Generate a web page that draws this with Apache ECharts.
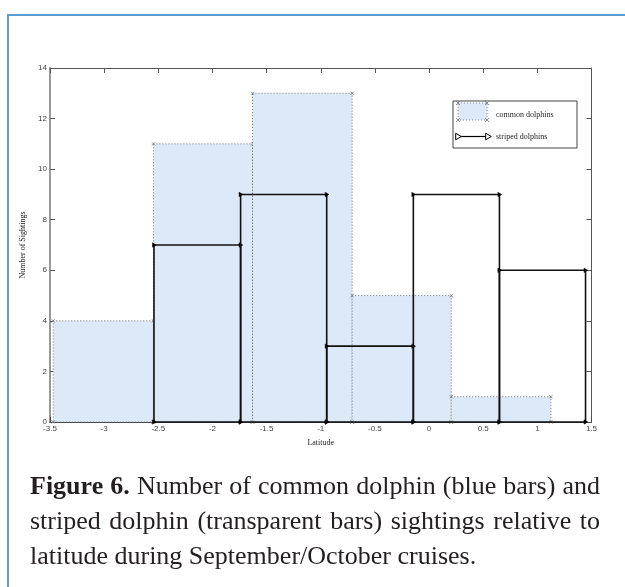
<!DOCTYPE html>
<html>
<head>
<meta charset="utf-8">
<script src="https://cdn.jsdelivr.net/npm/echarts@6/dist/echarts.min.js"></script>
<style>
  html, body { margin: 0; padding: 0; background: #fff; }
  #page { position: relative; width: 625px; height: 587px; overflow: hidden; }
  #frame { position: absolute; left: 7px; top: 14px; width: 700px; height: 700px;
           border-left: 2px solid #5b9bd5; border-top: 2px solid #5b9bd5; }
  #chart { position: absolute; left: 0; top: 0; width: 625px; height: 587px; }
  #caption { position: absolute; left: 30px; top: 468px; width: 570px;
             font-family: "Liberation Serif", "DejaVu Serif", serif; font-size: 26px;
             line-height: 35px; color: #231f20; }
  #caption div { text-align: justify; white-space: nowrap; }
  #caption .j { text-align-last: justify; }
</style>
</head>
<body>
<div id="page">
  <div id="frame"></div>
  <div id="chart"></div>
  <div id="caption">
    <div class="j"><b>Figure 6.</b> Number of common dolphin (blue bars) and</div>
    <div class="j">striped dolphin (transparent bars) sightings relative to</div>
    <div>latitude during September/October cruises.</div>
  </div>
</div>
<script>
// ---- data ----
const seriesNames = ['common dolphins', 'striped dolphins'];
const commonEdges = [-3.47, -2.545, -1.63, -0.71, 0.205, 1.125];
const commonCounts = [4, 11, 13, 5, 1];
const stripedEdges = [-2.54, -1.74, -0.945, -0.145, 0.65, 1.445];
const stripedCounts = [7, 9, 3, 9, 6];
const xAxisTitle = 'Latitude';
const yAxisTitle = 'Number of Sightings';

function bins(edges, counts) {
  return counts.map((c, i) => [edges[i], edges[i + 1], c]);
}

function xMark(x, y, s, color) {
  return { type: 'group', children: [
    { type: 'line', shape: { x1: x - s, y1: y - s, x2: x + s, y2: y + s }, style: { stroke: color, lineWidth: 0.8 } },
    { type: 'line', shape: { x1: x - s, y1: y + s, x2: x + s, y2: y - s }, style: { stroke: color, lineWidth: 0.8 } }
  ] };
}
function triMark(x, y, s, filled) {
  return { type: 'polygon', shape: { points: [[x - s * 0.7, y - s], [x + s, y], [x - s * 0.7, y + s]] },
           style: filled ? { fill: '#000', stroke: '#000', lineWidth: 0.5 } : { fill: '#fff', stroke: '#000', lineWidth: 1 } };
}

const chart = echarts.init(document.getElementById('chart'), null, { renderer: 'canvas' });

const axisFont = { fontFamily: 'Liberation Sans, Arial, sans-serif', fontSize: 8, color: '#444' };
const titleFont = { fontFamily: 'Liberation Serif, Times New Roman, serif', fontSize: 8, color: '#222' };

const option = {
  animation: false,
  backgroundColor: 'transparent',
  grid: { left: 50, right: 33.5, top: 68, bottom: 165 },
  xAxis: [
    { type: 'value', min: -3.5, max: 1.5, interval: 0.5, position: 'bottom',
      name: xAxisTitle, nameLocation: 'middle', nameGap: 17, nameTextStyle: titleFont,
      axisLine: { show: true, onZero: false, lineStyle: { color: '#444', width: 1 } },
      axisTick: { show: true, inside: true, length: 5, lineStyle: { color: '#444' } },
      axisLabel: Object.assign({ margin: 3, showMinLabel: true, showMaxLabel: true }, axisFont),
      splitLine: { show: false } },
    { type: 'value', min: -3.5, max: 1.5, interval: 0.5, position: 'top',
      axisLine: { show: true, onZero: false, lineStyle: { color: '#555', width: 1 } },
      axisTick: { show: true, inside: true, length: 5, lineStyle: { color: '#555' } },
      axisLabel: { show: false }, splitLine: { show: false } }
  ],
  yAxis: [
    { type: 'value', min: 0, max: 14, interval: 2, position: 'left',
      name: yAxisTitle, nameLocation: 'middle', nameGap: 9, nameRotate: 90, nameTextStyle: titleFont,
      axisLine: { show: true, onZero: false, lineStyle: { color: '#999', width: 2 } },
      axisTick: { show: true, inside: true, length: 5, lineStyle: { color: '#555' } },
      axisLabel: Object.assign({ margin: 3 }, axisFont),
      splitLine: { show: false } },
    { type: 'value', min: 0, max: 14, interval: 2, position: 'right',
      axisLine: { show: true, onZero: false, lineStyle: { color: '#555', width: 1 } },
      axisTick: { show: true, inside: true, length: 5, lineStyle: { color: '#555' } },
      axisLabel: { show: false }, splitLine: { show: false } }
  ],
  series: [
    {
      name: seriesNames[0], type: 'custom', xAxisIndex: 0, yAxisIndex: 0, z: 1,
      data: bins(commonEdges, commonCounts),
      encode: { x: [0, 1], y: 2 },
      renderItem: function (params, api) {
        const tl = api.coord([api.value(0), api.value(2)]);
        const br = api.coord([api.value(1), 0]);
        const children = [
          { type: 'rect', shape: { x: tl[0], y: tl[1], width: br[0] - tl[0], height: br[1] - tl[1] },
            style: { fill: '#dce9f8', stroke: '#777', lineWidth: 1, lineDash: [1, 2] } },
          xMark(tl[0], tl[1], 1.6, '#777'), xMark(br[0], tl[1], 1.6, '#777'),
          xMark(tl[0], br[1], 1.6, '#777'), xMark(br[0], br[1], 1.6, '#777')
        ];
        return { type: 'group', children: children };
      }
    },
    {
      name: seriesNames[1], type: 'custom', xAxisIndex: 0, yAxisIndex: 0, z: 3,
      data: bins(stripedEdges, stripedCounts),
      encode: { x: [0, 1], y: 2 },
      renderItem: function (params, api) {
        const tl = api.coord([api.value(0), api.value(2)]);
        const br = api.coord([api.value(1), 0]);
        const children = [
          { type: 'polyline', shape: { points: [[tl[0], br[1]], [tl[0], tl[1]], [br[0], tl[1]], [br[0], br[1]], [tl[0], br[1]]] },
            style: { fill: null, stroke: '#111', lineWidth: 1.6 } },
          triMark(tl[0], tl[1], 2.2, true), triMark(br[0], tl[1], 2.2, true),
          triMark(tl[0], br[1], 2.2, true), triMark(br[0], br[1], 2.2, true)
        ];
        return { type: 'group', children: children };
      }
    }
  ],
  graphic: [
    { type: 'group', x: 453, y: 101, z: 100, children: [
      { type: 'rect', shape: { x: 0, y: 0, width: 124, height: 47 },
        style: { fill: '#fff', stroke: '#444', lineWidth: 1 } },
      { type: 'rect', shape: { x: 5, y: 2, width: 29, height: 17 },
        style: { fill: '#dce9f8', stroke: '#888', lineWidth: 1, lineDash: [1, 2] } },
      xMark(5, 2, 2, '#777'), xMark(34, 2, 2, '#777'), xMark(5, 19, 2, '#777'), xMark(34, 19, 2, '#777'),
      { type: 'text', x: 43, y: 13.5, style: { text: seriesNames[0], fontFamily: 'Liberation Serif, serif', fontSize: 8, fill: '#222', verticalAlign: 'middle' } },
      { type: 'line', shape: { x1: 4, y1: 35.5, x2: 36, y2: 35.5 }, style: { stroke: '#000', lineWidth: 1.2 } },
      triMark(5, 35.5, 3.3, false), triMark(35, 35.5, 3.3, false),
      { type: 'text', x: 43, y: 35.5, style: { text: seriesNames[1], fontFamily: 'Liberation Serif, serif', fontSize: 8, fill: '#222', verticalAlign: 'middle' } }
    ] }
  ]
};
chart.setOption(option);
</script>
</body>
</html>
